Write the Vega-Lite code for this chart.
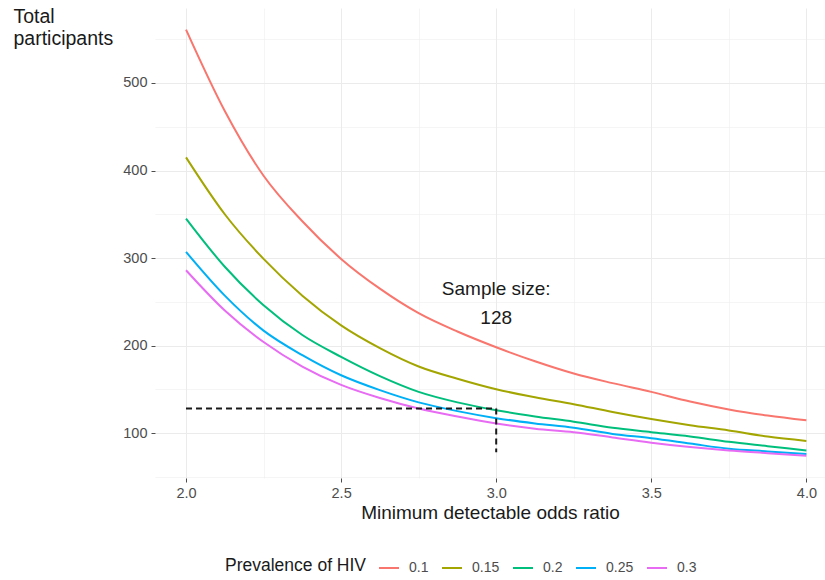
{
  "$schema": "https://vega.github.io/schema/vega-lite/v6.json",
  "width": 670,
  "height": 470,
  "autosize": {"type": "none"},
  "padding": {"left": 155, "top": 8, "right": 0, "bottom": 102},
  "background": "white",
  "config": {
    "font": "Liberation Sans",
    "view": {"stroke": null},
    "axis": {"domain": false, "labelColor": "#4d4d4d", "labelFontSize": 14.5, "tickColor": "#4d4d4d", "tickSize": 4, "tickWidth": 1, "gridColor": "#ebebeb"}
  },
  "datasets": {
    "curves": [
      {"or": 2.0, "n": 561, "prev": "0.1"}, {"or": 2.125, "n": 468, "prev": "0.1"}, {"or": 2.25, "n": 394, "prev": "0.1"}, {"or": 2.375, "n": 342, "prev": "0.1"}, {"or": 2.5, "n": 299, "prev": "0.1"}, {"or": 2.625, "n": 265, "prev": "0.1"}, {"or": 2.75, "n": 237, "prev": "0.1"}, {"or": 2.875, "n": 216, "prev": "0.1"}, {"or": 3.0, "n": 198, "prev": "0.1"}, {"or": 3.125, "n": 182, "prev": "0.1"}, {"or": 3.25, "n": 168, "prev": "0.1"}, {"or": 3.375, "n": 157, "prev": "0.1"}, {"or": 3.5, "n": 147, "prev": "0.1"}, {"or": 3.625, "n": 136, "prev": "0.1"}, {"or": 3.75, "n": 127, "prev": "0.1"}, {"or": 3.875, "n": 120, "prev": "0.1"}, {"or": 4.0, "n": 114.5, "prev": "0.1"},
      {"or": 2.0, "n": 415, "prev": "0.15"}, {"or": 2.125, "n": 350, "prev": "0.15"}, {"or": 2.25, "n": 299, "prev": "0.15"}, {"or": 2.375, "n": 257, "prev": "0.15"}, {"or": 2.5, "n": 223, "prev": "0.15"}, {"or": 2.625, "n": 197, "prev": "0.15"}, {"or": 2.75, "n": 176, "prev": "0.15"}, {"or": 2.875, "n": 162, "prev": "0.15"}, {"or": 3.0, "n": 150, "prev": "0.15"}, {"or": 3.125, "n": 141, "prev": "0.15"}, {"or": 3.25, "n": 133, "prev": "0.15"}, {"or": 3.375, "n": 124, "prev": "0.15"}, {"or": 3.5, "n": 116, "prev": "0.15"}, {"or": 3.625, "n": 109, "prev": "0.15"}, {"or": 3.75, "n": 103, "prev": "0.15"}, {"or": 3.875, "n": 96, "prev": "0.15"}, {"or": 4.0, "n": 91, "prev": "0.15"},
      {"or": 2.0, "n": 345, "prev": "0.2"}, {"or": 2.125, "n": 290, "prev": "0.2"}, {"or": 2.25, "n": 246, "prev": "0.2"}, {"or": 2.375, "n": 212, "prev": "0.2"}, {"or": 2.5, "n": 187, "prev": "0.2"}, {"or": 2.625, "n": 165, "prev": "0.2"}, {"or": 2.75, "n": 147, "prev": "0.2"}, {"or": 2.875, "n": 135, "prev": "0.2"}, {"or": 3.0, "n": 126, "prev": "0.2"}, {"or": 3.125, "n": 119, "prev": "0.2"}, {"or": 3.25, "n": 113, "prev": "0.2"}, {"or": 3.375, "n": 106, "prev": "0.2"}, {"or": 3.5, "n": 101, "prev": "0.2"}, {"or": 3.625, "n": 96, "prev": "0.2"}, {"or": 3.75, "n": 90, "prev": "0.2"}, {"or": 3.875, "n": 85, "prev": "0.2"}, {"or": 4.0, "n": 80, "prev": "0.2"},
      {"or": 2.0, "n": 307, "prev": "0.25"}, {"or": 2.125, "n": 257, "prev": "0.25"}, {"or": 2.25, "n": 217, "prev": "0.25"}, {"or": 2.375, "n": 189, "prev": "0.25"}, {"or": 2.5, "n": 166, "prev": "0.25"}, {"or": 2.625, "n": 149, "prev": "0.25"}, {"or": 2.75, "n": 135, "prev": "0.25"}, {"or": 2.875, "n": 125, "prev": "0.25"}, {"or": 3.0, "n": 117, "prev": "0.25"}, {"or": 3.125, "n": 111, "prev": "0.25"}, {"or": 3.25, "n": 106, "prev": "0.25"}, {"or": 3.375, "n": 99, "prev": "0.25"}, {"or": 3.5, "n": 94, "prev": "0.25"}, {"or": 3.625, "n": 88, "prev": "0.25"}, {"or": 3.75, "n": 82, "prev": "0.25"}, {"or": 3.875, "n": 79, "prev": "0.25"}, {"or": 4.0, "n": 76, "prev": "0.25"},
      {"or": 2.0, "n": 286, "prev": "0.3"}, {"or": 2.125, "n": 240, "prev": "0.3"}, {"or": 2.25, "n": 204, "prev": "0.3"}, {"or": 2.375, "n": 176, "prev": "0.3"}, {"or": 2.5, "n": 155, "prev": "0.3"}, {"or": 2.625, "n": 140, "prev": "0.3"}, {"or": 2.75, "n": 128, "prev": "0.3"}, {"or": 2.875, "n": 119, "prev": "0.3"}, {"or": 3.0, "n": 111, "prev": "0.3"}, {"or": 3.125, "n": 105, "prev": "0.3"}, {"or": 3.25, "n": 101, "prev": "0.3"}, {"or": 3.375, "n": 95, "prev": "0.3"}, {"or": 3.5, "n": 89, "prev": "0.3"}, {"or": 3.625, "n": 84, "prev": "0.3"}, {"or": 3.75, "n": 80, "prev": "0.3"}, {"or": 3.875, "n": 77, "prev": "0.3"}, {"or": 4.0, "n": 74, "prev": "0.3"}
    ],
    "guides": [
      {"x": 2.0, "x2": 3.0, "y": 128, "y2": 128},
      {"x": 3.0, "x2": 3.0, "y": 128, "y2": 78}
    ],
    "notes": [
      {"x": 3.0, "y": 265, "label": "Sample size:"},
      {"x": 3.0, "y": 232, "label": "128"}
    ]
  },
  "layer": [
    {
      "data": {"name": "curves"},
      "mark": {"type": "line", "strokeWidth": 2, "clip": true, "interpolate": "monotone"},
      "encoding": {
        "x": {
          "field": "or", "type": "quantitative",
          "scale": {"domain": [1.9, 4.06], "nice": false, "zero": false},
          "axis": {
            "title": "Minimum detectable odds ratio",
            "titleFontSize": 19, "titleFontWeight": "normal", "titleColor": "#1a1a1a", "titlePadding": 4,
            "values": [2.0, 2.25, 2.5, 2.75, 3.0, 3.25, 3.5, 3.75, 4.0],
            "labelExpr": "datum.value % 0.5 == 0 ? format(datum.value, '.1f') : ''",
            "labelPadding": 4,
            "tickOpacity": {"condition": {"test": "datum.value % 0.5 == 0", "value": 1}, "value": 0},
            "gridWidth": {"condition": {"test": "datum.value % 0.5 == 0", "value": 1}, "value": 0.5}
          }
        },
        "y": {
          "field": "n", "type": "quantitative",
          "scale": {"domain": [48.6, 585.7], "nice": false, "zero": false},
          "axis": {
            "title": ["Total", "participants"],
            "titleFontSize": 19.5, "titleFontWeight": "normal", "titleColor": "#1a1a1a",
            "titleAngle": 0, "titleAlign": "left", "titleBaseline": "top",
            "titleX": -142, "titleY": -1, "titleLineHeight": 22,
            "values": [50, 100, 150, 200, 250, 300, 350, 400, 450, 500, 550],
            "labelExpr": "datum.value % 100 == 0 ? format(datum.value, 'd') : ''",
            "labelPadding": 4,
            "tickOpacity": {"condition": {"test": "datum.value % 100 == 0", "value": 1}, "value": 0},
            "gridWidth": {"condition": {"test": "datum.value % 100 == 0", "value": 1}, "value": 0.5}
          }
        },
        "color": {
          "field": "prev", "type": "nominal",
          "scale": {"domain": ["0.1", "0.15", "0.2", "0.25", "0.3"], "range": ["#F8766D", "#A3A500", "#00BF7D", "#00B0F6", "#E76BF3"]},
          "legend": {
            "title": "Prevalence of HIV",
            "orient": "none", "direction": "horizontal",
            "legendX": 70, "legendY": 549,
            "titleOrient": "left", "titleFontSize": 17.5, "titleFontWeight": "normal", "titleColor": "#1a1a1a",
            "titleBaseline": "middle", "titlePadding": 11,
            "labelFontSize": 14, "labelColor": "#4d4d4d", "labelOffset": 9,
            "symbolType": "stroke", "symbolSize": 400, "symbolStrokeWidth": 2,
            "columnPadding": 9
          }
        }
      }
    },
    {
      "data": {"name": "guides"},
      "mark": {"type": "rule", "strokeDash": [6, 4], "strokeWidth": 2, "color": "#1a1a1a"},
      "encoding": {
        "x": {"field": "x", "type": "quantitative"},
        "x2": {"field": "x2"},
        "y": {"field": "y", "type": "quantitative"},
        "y2": {"field": "y2"}
      }
    },
    {
      "data": {"name": "notes"},
      "mark": {"type": "text", "fontSize": 19, "color": "#1a1a1a", "align": "center", "baseline": "middle"},
      "encoding": {
        "x": {"field": "x", "type": "quantitative"},
        "y": {"field": "y", "type": "quantitative"},
        "text": {"field": "label"}
      }
    }
  ]
}
